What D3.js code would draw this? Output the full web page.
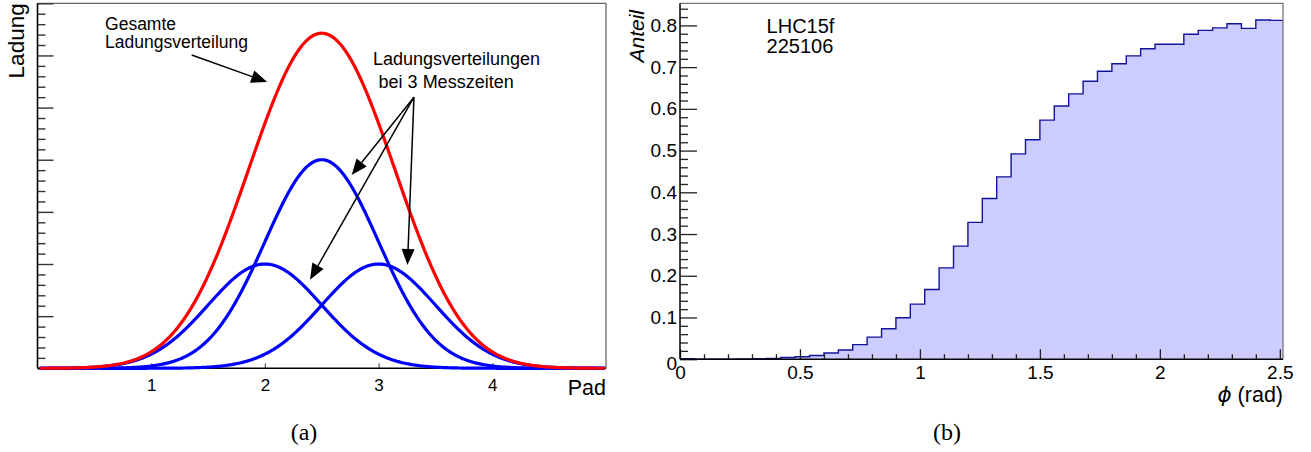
<!DOCTYPE html>
<html>
<head>
<meta charset="utf-8">
<script src="https://cdn.jsdelivr.net/npm/d3@7"></script>
<style>
  body { margin: 0; background: #fff; }
  svg { display: block; }
  text { font-family: "Liberation Sans", Arial, Helvetica, sans-serif; fill: #000; }
</style>
</head>
<body>
<svg id="fig" width="1311" height="452"></svg>
<script>
// ---------- (a) charge on the pads ----------
const padTicks = [1, 2, 3, 4];
const pulseCentres = [2, 2.5, 3];   // pad position of the pulse at each sampling time
const pulseHeights = [2, 4, 2];     // peak charge of each pulse
const pulseSigma = 0.5;             // pulse width in pads

// ---------- (b) fraction vs. phi ----------
const binWidth = 0.06;
const fraction = [
  0.001, 0, 0, 0, 0.0005, 0.001, 0.0015, 0.004, 0.006, 0.009,
  0.015, 0.022, 0.035, 0.053, 0.073, 0.0995, 0.132, 0.167, 0.219, 0.271,
  0.328, 0.385, 0.437, 0.492, 0.526, 0.573, 0.607, 0.636, 0.666, 0.690,
  0.708, 0.727, 0.744, 0.755, 0.755, 0.779, 0.788, 0.794, 0.804, 0.793,
  0.813, 0.812
];
const phiTicks = [0, 0.5, 1, 1.5, 2, 2.5];
const phiTickLabels = ["0", "0.5", "1", "1.5", "2", "2.5"];
const fractionTicks = [0, 0.1, 0.2, 0.3, 0.4, 0.5, 0.6, 0.7, 0.8];
const fractionTickLabels = ["0", "0.1", "0.2", "0.3", "0.4", "0.5", "0.6", "0.7", "0.8"];

const svg = d3.select("#fig");

// =====================================================================
// Panel (a)
// =====================================================================
const xL = d3.scaleLinear([0, 5], [37.5, 606]);
const yL = d3.scaleLinear([0, 7], [368.3, 3.3]);
const gA = svg.append("g");

// frame
gA.append("path")
  .attr("d", `M${xL(0)},${yL(7)}H${xL(5)}V${yL(0)}`)
  .attr("fill", "none").attr("stroke", "#666").attr("stroke-width", 1.3);

// y ticks (inside, no labels)
const yMajorL = d3.range(0, 8, 1);
const yMinorL = d3.range(0, 35).map(i => i * 0.2).filter(v => Math.abs(v - Math.round(v)) > 1e-6);
gA.append("g").attr("transform", `translate(${xL(0)},0)`)
  .call(d3.axisRight(yL).tickValues(yMinorL).tickSize(8).tickFormat(""))
  .call(g => g.select(".domain").remove())
  .call(g => g.selectAll("line").attr("stroke", "#333").attr("stroke-width", 1.4));
gA.append("g").attr("transform", `translate(${xL(0)},0)`)
  .call(d3.axisRight(yL).tickValues(yMajorL).tickSize(16).tickFormat(""))
  .call(g => g.select(".domain").remove())
  .call(g => g.selectAll("line").attr("stroke", "#333").attr("stroke-width", 1.4));

// x ticks
gA.append("g").attr("transform", `translate(0,${yL(0)})`)
  .call(d3.axisTop(xL).tickValues(padTicks).tickSize(5).tickFormat(""))
  .call(g => g.select(".domain").remove())
  .call(g => g.selectAll("line").attr("stroke", "#666").attr("stroke-width", 1.3));
gA.append("g").attr("transform", `translate(0,${yL(0)})`)
  .call(d3.axisBottom(xL).tickValues(padTicks).tickSize(0).tickPadding(11).tickFormat(d3.format("d")))
  .call(g => g.select(".domain").remove())
  .call(g => g.selectAll("text").attr("font-size", 17).attr("fill", "#111")
        .style("font-family", "'Liberation Sans', Arial, sans-serif"));

// axis lines
gA.append("line").attr("x1", xL(0)).attr("x2", xL(0)).attr("y1", yL(7)).attr("y2", yL(0))
  .attr("stroke", "#000").attr("stroke-width", 1.6);
gA.append("line").attr("x1", xL(0)).attr("x2", xL(5)).attr("y1", yL(0)).attr("y2", yL(0))
  .attr("stroke", "#000").attr("stroke-width", 1.6);

// pulse shapes
const padSamples = d3.range(0.02, 4.99, 0.01);
const gauss = (x, c, h) => h * Math.exp(-((x - c) ** 2) / (2 * pulseSigma * pulseSigma));
const curveLine = d3.line().x(d => xL(d[0])).y(d => yL(d[1])).curve(d3.curveLinear);

pulseCentres.forEach((c, i) => {
  gA.append("path")
    .datum(padSamples.map(x => [x, gauss(x, c, pulseHeights[i])]))
    .attr("d", curveLine)
    .attr("fill", "none").attr("stroke", "#0000ff").attr("stroke-width", 3.2);
});
gA.append("path")
  .datum(padSamples.map(x => [x, d3.sum(pulseCentres, (c, i) => gauss(x, c, pulseHeights[i]))]))
  .attr("d", curveLine)
  .attr("fill", "none").attr("stroke", "#ff0000").attr("stroke-width", 3.2);

// axis titles
gA.append("text").attr("transform", `translate(24,${yL(7)}) rotate(-90)`)
  .attr("text-anchor", "end").attr("font-size", 22.5).text("Ladung");
gA.append("text").attr("x", xL(5)).attr("y", 395)
  .attr("text-anchor", "end").attr("font-size", 21.5).text("Pad");

// annotations
const arrowHead = (g, x1, y1, x2, y2) => {
  const ang = Math.atan2(y2 - y1, x2 - x1);
  const len = 16, half = 6.5;
  const bx = x2 - len * Math.cos(ang), by = y2 - len * Math.sin(ang);
  const nx = -Math.sin(ang) * half, ny = Math.cos(ang) * half;
  g.append("line").attr("x1", x1).attr("y1", y1).attr("x2", bx).attr("y2", by)
    .attr("stroke", "#000").attr("stroke-width", 1.5);
  g.append("path").attr("d", `M${x2},${y2}L${bx + nx},${by + ny}L${bx - nx},${by - ny}Z`)
    .attr("fill", "#000");
};

gA.append("text").attr("x", xL(0.594)).attr("y", yL(6.488)).attr("font-size", 17.5).text("Gesamte");
gA.append("text").attr("x", xL(0.594)).attr("y", yL(6.15)).attr("font-size", 17.5).text("Ladungsverteilung");
arrowHead(gA, xL(1.356), yL(6.01), xL(2.02), yL(5.49));

gA.append("text").attr("x", xL(2.95)).attr("y", yL(5.81)).attr("font-size", 18).text("Ladungsverteilungen");
gA.append("text").attr("x", xL(3.0)).attr("y", yL(5.37)).attr("font-size", 18).text("bei 3 Messzeiten");
const fromX = xL(3.311), fromY = yL(5.2);
[[2.763, 3.708], [2.397, 1.70], [3.254, 1.98]].forEach(([tx, ty]) => {
  arrowHead(gA, fromX, fromY, xL(tx), yL(ty));
});

svg.append("text").attr("x", 304).attr("y", 440).attr("text-anchor", "middle")
  .attr("font-size", 24).style("font-family", "'Liberation Serif', 'DejaVu Serif', serif").text("(a)");

// =====================================================================
// Panel (b)
// =====================================================================
const phiMax = 0.8 * Math.PI;
const xR = d3.scaleLinear([0, phiMax], [680, 1283]);
const yR = d3.scaleLinear([0, 0.853], [359.2, 3.3]);
const gB = svg.append("g");

svg.append("clipPath").attr("id", "plotB").append("rect")
  .attr("x", xR(0)).attr("y", yR(0.853)).attr("width", xR(phiMax) - xR(0)).attr("height", yR(0) - yR(0.853));

const histPts = [];
fraction.forEach((v, i) => { histPts.push([i * binWidth, v], [(i + 1) * binWidth, v]); });

gB.append("path").datum(histPts)
  .attr("clip-path", "url(#plotB)")
  .attr("d", d3.area().x(d => xR(d[0])).y0(yR(0)).y1(d => yR(d[1])))
  .attr("fill", "#ccccff");
gB.append("path").datum(histPts)
  .attr("clip-path", "url(#plotB)")
  .attr("d", d3.line().x(d => xR(d[0])).y(d => yR(d[1])))
  .attr("fill", "none").attr("stroke", "#12129a").attr("stroke-width", 1.4);

// frame
gB.append("path")
  .attr("d", `M${xR(0)},${yR(0.853)}H${xR(phiMax)}V${yR(0)}`)
  .attr("fill", "none").attr("stroke", "#777").attr("stroke-width", 1.3);

// y axis
const yMinorR = d3.range(0, 43).map(i => i * 0.02).filter(v => Math.abs(v * 10 - Math.round(v * 10)) > 1e-6);
gB.append("g").attr("transform", `translate(${xR(0)},0)`)
  .call(d3.axisRight(yR).tickValues(yMinorR).tickSize(8).tickFormat(""))
  .call(g => g.select(".domain").remove())
  .call(g => g.selectAll("line").attr("stroke", "#222").attr("stroke-width", 1.3));
gB.append("g").attr("transform", `translate(${xR(0)},0)`)
  .call(d3.axisRight(yR).tickValues(fractionTicks).tickSize(17).tickFormat(""))
  .call(g => g.select(".domain").remove())
  .call(g => g.selectAll("line").attr("stroke", "#222").attr("stroke-width", 1.3));
gB.append("g").attr("transform", `translate(${xR(0)},0)`)
  .call(d3.axisLeft(yR).tickValues(fractionTicks).tickSize(0).tickPadding(3)
        .tickFormat((d, i) => fractionTickLabels[i]))
  .call(g => g.select(".domain").remove())
  .call(g => g.selectAll("text").attr("font-size", 19).attr("fill", "#111")
        .style("font-family", "'Liberation Sans', Arial, sans-serif"))
  .call(g => g.selectAll(".tick").filter(d => d === 0).select("text").attr("dy", "0.55em"));

// x axis
const xMinorR = d3.range(0, 26).map(i => i * 0.1).filter(v => Math.abs(v * 2 - Math.round(v * 2)) > 1e-6);
gB.append("g").attr("transform", `translate(0,${yR(0)})`)
  .call(d3.axisTop(xR).tickValues(xMinorR).tickSize(5).tickFormat(""))
  .call(g => g.select(".domain").remove())
  .call(g => g.selectAll("line").attr("stroke", "#222").attr("stroke-width", 1.3));
gB.append("g").attr("transform", `translate(0,${yR(0)})`)
  .call(d3.axisTop(xR).tickValues(phiTicks).tickSize(10).tickFormat(""))
  .call(g => g.select(".domain").remove())
  .call(g => g.selectAll("line").attr("stroke", "#222").attr("stroke-width", 1.3));
gB.append("g").attr("transform", `translate(0,${yR(0)})`)
  .call(d3.axisBottom(xR).tickValues(phiTicks).tickSize(0).tickPadding(6)
        .tickFormat((d, i) => phiTickLabels[i]))
  .call(g => g.select(".domain").remove())
  .call(g => g.selectAll("text").attr("font-size", 19).attr("fill", "#111")
        .style("font-family", "'Liberation Sans', Arial, sans-serif"));

// axis lines
gB.append("line").attr("x1", xR(0)).attr("x2", xR(0)).attr("y1", yR(0.853)).attr("y2", yR(0))
  .attr("stroke", "#000").attr("stroke-width", 1.5);
gB.append("line").attr("x1", xR(0)).attr("x2", xR(phiMax)).attr("y1", yR(0)).attr("y2", yR(0))
  .attr("stroke", "#000").attr("stroke-width", 1.5);

// titles
gB.append("text").attr("transform", `translate(644,10) rotate(-90)`)
  .attr("text-anchor", "end").attr("font-size", 21).attr("font-style", "italic").text("Anteil");
const phiTitle = gB.append("text").attr("x", xR(phiMax)).attr("y", 402)
  .attr("text-anchor", "end").attr("font-size", 21.5);
phiTitle.append("tspan").attr("font-style", "italic").style("font-family", "'DejaVu Sans', sans-serif").text("ϕ");
phiTitle.append("tspan").text(" (rad)");

gB.append("text").attr("x", xR(0.361)).attr("y", yR(0.782)).attr("font-size", 20).text("LHC15f");
gB.append("text").attr("x", xR(0.361)).attr("y", yR(0.734)).attr("font-size", 20).text("225106");

svg.append("text").attr("x", 947).attr("y", 440).attr("text-anchor", "middle")
  .attr("font-size", 24).style("font-family", "'Liberation Serif', 'DejaVu Serif', serif").text("(b)");
</script>
</body>
</html>
